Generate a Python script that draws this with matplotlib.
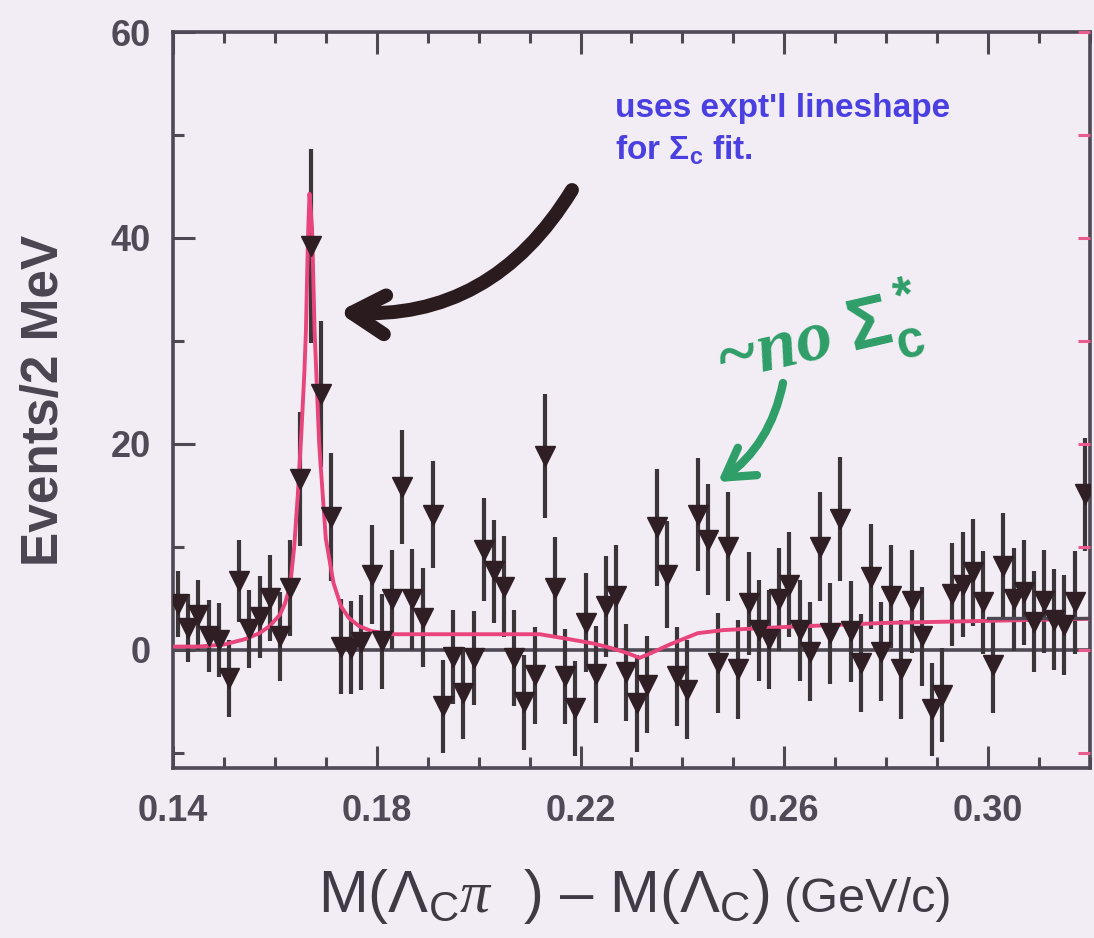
import numpy as np
import matplotlib.pyplot as plt
from matplotlib.ticker import FixedLocator, MultipleLocator

plt.rcParams['font.family'] = ['Liberation Sans', 'DejaVu Sans']
plt.rcParams['mathtext.fontset'] = 'custom'
plt.rcParams['mathtext.rm'] = 'Liberation Sans'
plt.rcParams['mathtext.it'] = 'Liberation Sans:italic'
plt.rcParams['mathtext.bf'] = 'Liberation Sans:bold'
plt.rcParams['mathtext.cal'] = 'Liberation Serif:italic'

# events per 2 MeV bin (background subtracted)
bin_lo = 0.140
bin_width = 0.002
events = [4.4, 2.1, 3.4, 1.3, 0.9, -2.8, 6.7, 2.0, 3.2, 5.0,
          1.3, 6.0, 16.6, 39.2, 24.8, 12.9, 0.3, 0.2, 0.7, 7.3,
          0.8, 4.9, 15.8, 4.9, 3.1, 13.1, -5.5, -0.7, -4.2, -0.8,
          9.7, 7.6, 6.1, -0.8, -5.1, -2.5, 18.8, 6.0, -2.6, -5.7,
          2.6, -2.4, 4.2, 5.2, -2.2, -5.2, -3.4, 11.9, 7.3, -2.6,
          -3.9, 13.1, 10.7, -1.3, 10.0, -1.9, 4.5, 1.9, 1.0, 4.9,
          6.3, 1.9, -0.2, 10.0, 1.6, 12.7, 1.8, -1.3, 7.1, -0.2,
          5.2, -1.9, 4.7, 1.3, -5.8, -4.4, 5.4, 6.3, 7.5, 4.6,
          -1.5, 8.1, 4.9, 5.6, 2.7, 4.7, 2.9, 2.4, 4.6, 15.1]
errors = [3.2, 3.3, 3.4, 3.5, 3.6, 3.7, 4.0, 3.8, 4.0, 4.2,
          4.3, 4.7, 6.5, 9.4, 7.1, 6.2, 4.6, 4.5, 4.6, 4.8,
          4.6, 4.8, 5.5, 4.9, 4.8, 5.2, 4.5, 4.6, 4.5, 4.6,
          5.0, 5.0, 4.9, 4.7, 4.6, 4.7, 6.0, 4.9, 4.6, 4.6,
          4.8, 4.7, 4.9, 5.0, 4.7, 4.7, 4.7, 5.7, 5.2, 4.8,
          4.8, 5.5, 5.4, 4.9, 5.3, 4.8, 5.0, 4.9, 4.8, 5.0,
          5.1, 4.9, 4.8, 5.3, 4.9, 6.0, 4.9, 4.8, 5.1, 4.8,
          5.0, 4.8, 5.0, 4.8, 4.5, 4.6, 5.0, 5.1, 5.2, 5.0,
          4.7, 5.2, 5.0, 5.1, 4.9, 5.0, 4.9, 4.9, 5.0, 5.5]
mass = bin_lo + bin_width * (np.arange(len(events)) + 0.5)

# fitted curve (expt'l lineshape + background)
fit_x = [0.140, 0.145, 0.150, 0.154, 0.157, 0.159, 0.161, 0.162, 0.163, 0.1638,
         0.1645, 0.1652, 0.1658, 0.1661, 0.1665, 0.1668, 0.1673, 0.1678, 0.1687, 0.1700,
         0.1715, 0.1730, 0.1745, 0.1765, 0.179, 0.183, 0.200, 0.212, 0.218, 0.2225,
         0.2257, 0.2290, 0.2316, 0.2340, 0.2375, 0.2430, 0.2480, 0.2600, 0.2800, 0.3000,
         0.3200]
fit_y = [0.3, 0.3, 0.5, 1.0, 1.6, 2.3, 3.4, 4.5, 6.2, 10.0,
         15.0, 21.0, 27.0, 31.0, 40.0, 44.3, 41.0, 31.0, 20.0, 10.8,
         6.5, 4.2, 3.1, 2.3, 1.8, 1.5, 1.5, 1.5, 1.0, 0.6,
         0.2, -0.3, -0.8, -0.3, 0.5, 1.6, 1.9, 2.2, 2.6, 2.8,
         3.0]
bkg_x = [0.300, 0.320]
bkg_y = [3.1, 3.1]

xticks = [0.14, 0.18, 0.22, 0.26, 0.30]
xtick_labels = ['0.14', '0.18', '0.22', '0.26', '0.30']
yticks = [0, 20, 40, 60]

bg = '#f2edf4'
ink = '#4d4853'
fig = plt.figure(figsize=(10.94, 9.38), dpi=100, facecolor=bg)
ax = fig.add_axes([0.1581, 0.1812, 0.8382, 0.7846], facecolor=bg)

ax.axhline(0, color=ink, lw=2.6, zorder=1)
ax.errorbar(mass, events, yerr=errors, fmt='none', ecolor='#3b3439',
            elinewidth=3.0, capsize=0, zorder=2)
ax.plot(fit_x, fit_y, color='#e8457c', lw=2.8, zorder=3)
ax.plot(bkg_x, bkg_y, color=ink, lw=2.4, zorder=3)
ax.plot(mass, events, 'v', ms=14, color='#2f1f24', zorder=4)

ax.set_xlim(0.14, 0.32)
ax.set_ylim(-11.5, 60)
ax.xaxis.set_major_locator(FixedLocator(xticks))
ax.set_xticklabels(xtick_labels)
ax.xaxis.set_minor_locator(MultipleLocator(0.01))
ax.yaxis.set_major_locator(FixedLocator(yticks))
ax.yaxis.set_minor_locator(MultipleLocator(10))

for s in ax.spines.values():
    s.set_color(ink)
    s.set_linewidth(2.6)
ax.tick_params(which='both', direction='in', top=True, right=False, color=ink, width=2.2)
ax.tick_params(which='major', length=16, labelsize=26, labelcolor='#4f4a55')
ax.tick_params(which='minor', length=8)
ax.tick_params(axis='x', pad=19)
ax.tick_params(axis='y', pad=16)
for lab in ax.get_xticklabels() + ax.get_yticklabels():
    lab.set_fontweight('bold')

# pink ticks on the right-hand axis
ax_r = ax.twinx()
ax_r.set_ylim(ax.get_ylim())
ax_r.yaxis.set_major_locator(MultipleLocator(10))
ax_r.tick_params(axis='y', direction='in', length=9, width=2.2, color='#ea5a8c',
                 labelright=False)
for s in ax_r.spines.values():
    s.set_visible(False)

ax.set_ylabel('Events/2 MeV', fontsize=37, fontweight='bold', color='#4a4550', labelpad=30)

fig.text(318 / 1094, 1 - 912 / 938, r'M($\Lambda_\mathrm{C}\mathcal{\pi}$  ) – M($\Lambda_\mathrm{C}$)',
         fontsize=43, color='#3f3a44', va='baseline', ha='left')
fig.text(784 / 1094, 1 - 912 / 938, '(GeV/c)', fontsize=35, color='#3f3a44',
         va='baseline', ha='left')

blue = '#4a3fe0'
fig.text(615 / 1094, 1 - 117 / 938, "uses expt'l lineshape", fontsize=24, color=blue,
         fontweight='bold', va='baseline', ha='left')
fig.text(615 / 1094, 1 - 160 / 938, r"for $\mathbf{\Sigma_c}$ fit.", fontsize=24, color=blue,
         fontweight='bold', va='baseline', ha='left')

green = '#2f9e68'
fig.text(818 / 1094, 1 - 338 / 938, r'~no $\mathbf{\Sigma_c^*}$', fontsize=52, color=green,
         fontweight='bold', style='italic', family='Liberation Serif', rotation=13,
         ha='center', va='center')

ax.annotate('', xy=(338 / 1094, 1 - 312 / 938), xycoords='figure fraction',
            xytext=(572 / 1094, 1 - 190 / 938), textcoords='figure fraction',
            arrowprops=dict(arrowstyle='->,head_length=1.2,head_width=0.7', lw=10,
                            color='#2a1b1e', connectionstyle='arc3,rad=-0.3',
                            shrinkA=0, shrinkB=0, mutation_scale=20))
ax.annotate('', xy=(718 / 1094, 1 - 482 / 938), xycoords='figure fraction',
            xytext=(783 / 1094, 1 - 383 / 938), textcoords='figure fraction',
            arrowprops=dict(arrowstyle='->,head_length=1.0,head_width=0.6', lw=6,
                            color=green, connectionstyle='arc3,rad=-0.2',
                            shrinkA=0, shrinkB=0, mutation_scale=20))

fig.savefig('out.png', dpi=100, facecolor=bg)
